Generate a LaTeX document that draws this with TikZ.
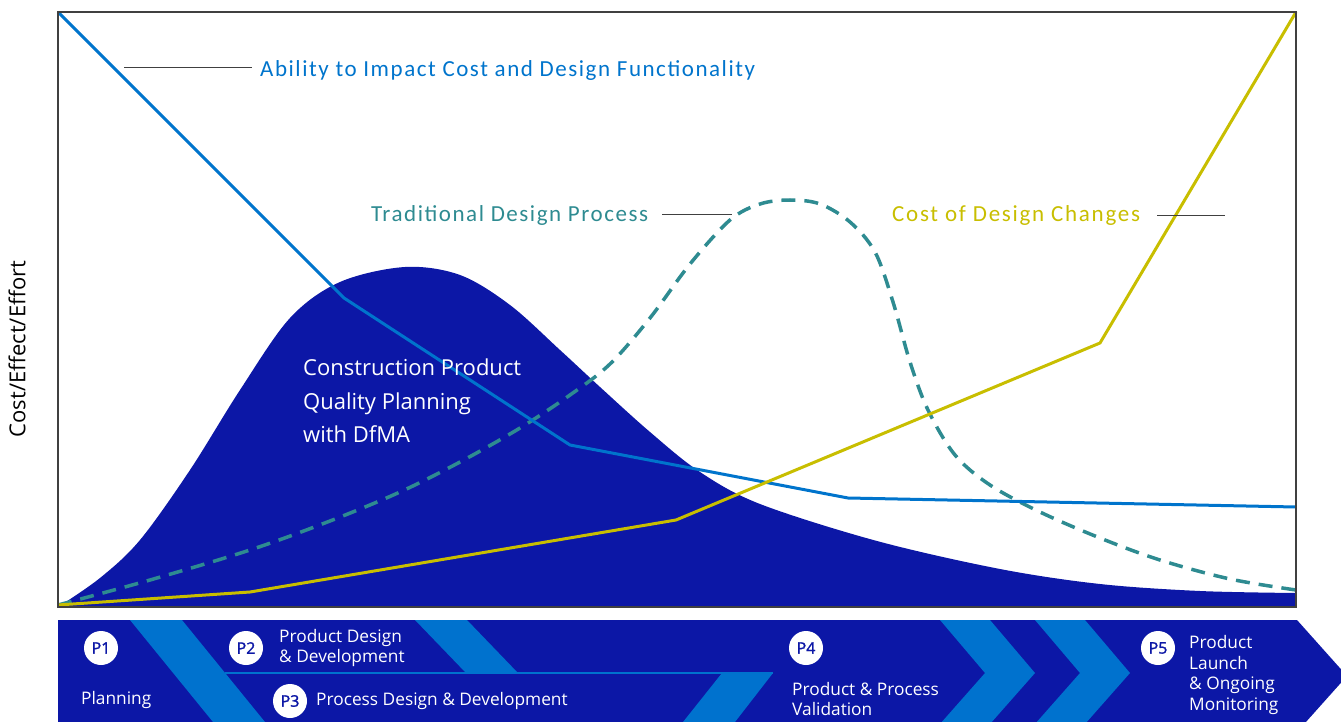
\documentclass[tikz,border=0pt]{standalone}
\usepackage{fontspec}
\setmainfont{Carlito}
\newfontfamily\osans{Open Sans}
\newfontfamily\osemi{Open Sans}[FakeBold=1.5]
\newfontfamily\spaced{Carlito}[LetterSpace=6.7]
\definecolor{darkfill}{RGB}{12,23,166}
\definecolor{lineblue}{RGB}{0,116,204}
\definecolor{stripe}{RGB}{0,114,206}
\definecolor{costy}{RGB}{200,190,0}
\definecolor{teal}{RGB}{46,139,145}
\definecolor{frame}{RGB}{64,64,64}
\tikzset{
  leader/.style={draw=frame, line width=1pt},
  curve/.style={line width=3pt, line join=round},
  stripebox/.style={fill=stripe, draw=none},
  chartlabel/.style={anchor=base west, inner sep=0pt, font=\spaced\fontsize{23}{26}\selectfont},
  pcircle/.style={circle, fill=white, draw=none, minimum size=34pt, inner sep=0pt, text=darkfill, font=\osemi\fontsize{16}{18}\selectfont},
  bartext/.style={text=white, anchor=west, align=left, inner sep=0pt, font=\osans\fontsize{17.3}{20.4}\selectfont},
}
\begin{document}
\begin{tikzpicture}[x=1pt,y=-1pt]
\useasboundingbox (0,0) rectangle (1341,722);
% ---- chart area ----
\fill[darkfill] plot[smooth, tension=0.55] coordinates {(58,607) (100,578) (140,540) (190,470) (240,390) (290,318) (340,282) (405,267) (460,275) (510,305) (560,350) (600,387) (650,432) (700,472) (760,504) (877,541) (1000,569) (1100,584) (1200,591) (1296,593)} -- (1296,607) -- cycle;
\draw[teal, curve, line width=3.5pt, dash pattern=on 14pt off 9pt] plot[smooth, tension=0.55] coordinates {(58,605) (150,580) (250,550) (330,521) (400,492) (460,462) (520,428) (570,395) (610,364) (650,318) (690,264) (730,220) (760,204) (790,200) (820,204) (850,222) (875,252) (893,302) (910,362) (928,410) (955,455) (990,485) (1040,512) (1100,538) (1160,560) (1230,579) (1296,590)};
\draw[lineblue, curve] (58,12) -- (344,298) -- (570,445) -- (848,498) -- (1296,507);
\draw[costy, curve] (58,605) -- (250,592) -- (676,520) -- (1100,343) -- (1296,12);
\draw[frame, line width=2pt] (58,12) rectangle (1296,607);
% labels
\node[chartlabel, text=lineblue] (abl) at (260,77) {Ability to Impact Cost and Design Functionality};
\coordinate (ablx) at (124,68);
\coordinate (abla) at (252,68);
\draw[leader] (ablx) -- (abla);
\node[chartlabel, text=teal] (trd) at (371,222) {Traditional Design Process};
\coordinate (trda) at (662,215);
\coordinate (trdx) at (732,215);
\draw[leader] (trda) -- (trdx);
\node[chartlabel, text=costy, font=\fontsize{23}{26}\selectfont\addfontfeatures{LetterSpace=7.5}] (cdc) at (892,222) {Cost of Design Changes};
\coordinate (cdca) at (1157,216);
\coordinate (cdcx) at (1225,216);
\draw[leader] (cdca) -- (cdcx);
\node[rotate=90, inner sep=0pt, font=\osans\fontsize{22}{24}\selectfont] (yax) at (17,349) {Cost/Effect/Effort};
\node[anchor=north west, inner sep=0pt, text=white, align=left, font=\osans\fontsize{22}{33.5}\selectfont] (cpq) at (303,359) {Construction Product\\Quality Planning\\with DfMA};
% ---- phase bar ----
\fill[darkfill] (58,620) -- (1297,620) -- (1347,676) -- (1297,732) -- (58,732) -- cycle;
\fill[stripebox] (130,620) -- (182,620) -- (265,722) -- (213,722) -- cycle;
\fill[stripebox] (415,620) -- (467,620) -- (518,673) -- (466,673) -- cycle;
\fill[stripebox] (722,673) -- (773,673) -- (735,722) -- (683,722) -- cycle;
\fill[stripebox] (940,620) -- (990,620) -- (1035,673) -- (990,724) -- (940,724) -- (985,673) -- cycle;
\fill[stripebox] (1035,620) -- (1085,620) -- (1130,673) -- (1085,724) -- (1035,724) -- (1080,673) -- cycle;
\draw[stripe, line width=1.5pt] (225,673) -- (773,673);
\node[pcircle] (p1) at (101,648) {P1};
\node[pcircle] (p2) at (246,648) {P2};
\node[pcircle] (p3) at (290,701) {P3};
\node[pcircle] (p4) at (806,648) {P4};
\node[pcircle] (p5) at (1158,648) {P5};
\node[bartext] (t1) at (81,700) {Planning};
\node[bartext] (t2) at (279,648) {Product Design\\\& Development};
\node[bartext] (t3) at (316,701) {Process Design \& Development};
\node[bartext] (t4) at (792,699) {Product \& Process\\Validation};
\node[bartext] (t5) at (1189,675) {Product\\Launch\\\& Ongoing\\Monitoring};
\end{tikzpicture}
\end{document}
